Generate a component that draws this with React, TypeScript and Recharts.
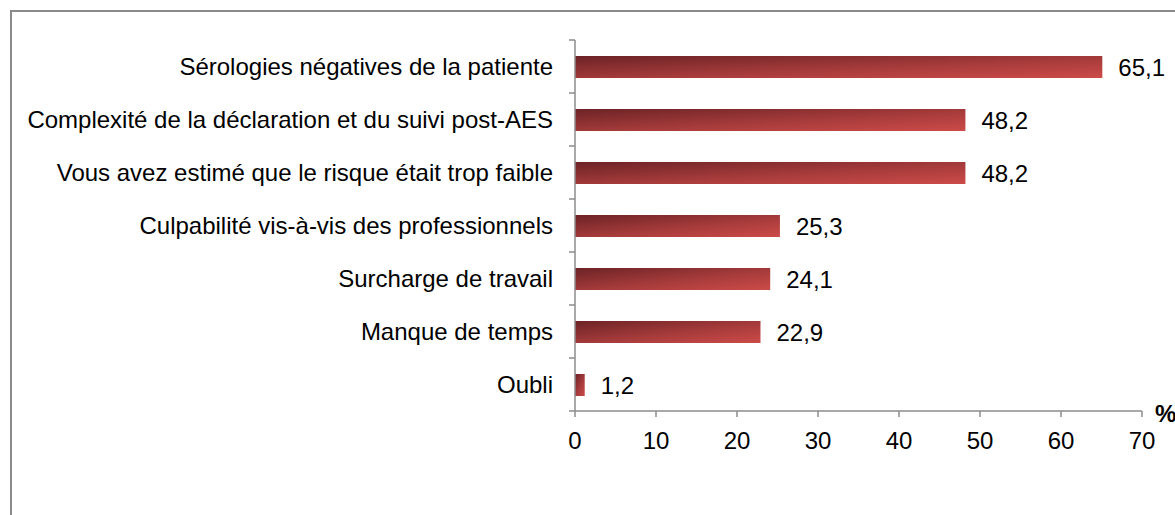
import React from 'react';
import { BarChart, Bar, XAxis, YAxis, LabelList, Label } from 'recharts';

const categories = [
    'Sérologies négatives de la patiente',
    'Complexité de la déclaration et du suivi post-AES',
    'Vous avez estimé que le risque était trop faible',
    'Culpabilité vis-à-vis des professionnels',
    'Surcharge de travail',
    'Manque de temps',
    'Oubli',
];
const values = [65.1, 48.2, 48.2, 25.3, 24.1, 22.9, 1.2];
const xTicks = [0, 10, 20, 30, 40, 50, 60, 70];

const data = categories.map((name, i) => ({ name, value: values[i] }));

const W = 1175;
const H = 515;
const X_HEIGHT = 30;
const margin = { top: 40, right: 33, bottom: 74, left: 15 };
const Y_WIDTH = 560;
const AXIS_X = margin.left + Y_WIDTH;
const BAND = (H - margin.top - margin.bottom - X_HEIGHT) / categories.length;
const FONT = '"Liberation Sans", Arial, sans-serif';
const FS = 24;
const AXIS_COLOR = '#8c8c8c';

const CategoryTick = (props: any) => {
    const { y, payload, index } = props;
    const last = index === categories.length - 1;
    return (
        <g>
            <line x1={AXIS_X - 6} x2={AXIS_X} y1={y - BAND / 2} y2={y - BAND / 2} stroke={AXIS_COLOR} strokeWidth={1.5} />
            {last && (
                <line x1={AXIS_X - 6} x2={AXIS_X} y1={y + BAND / 2} y2={y + BAND / 2} stroke={AXIS_COLOR} strokeWidth={1.5} />
            )}
            <text x={AXIS_X - 22} y={y} dy="0.36em" textAnchor="end" fontSize={FS} fill="#000" fontFamily={FONT}>
                {payload.value}
            </text>
        </g>
    );
};

export default function App() {
    return (
        <div style={{ position: 'fixed', left: 0, top: 0, width: W, height: H, overflow: 'hidden', background: '#fff' }}>
            <div
                style={{
                    position: 'absolute',
                    left: 10,
                    top: 10,
                    width: W + 20,
                    height: H + 20,
                    border: '2px solid #8a8a8a',
                    boxSizing: 'border-box',
                }}
            />
            <div style={{ position: 'absolute', left: 0, top: 0 }}>
                <BarChart width={W} height={H} data={data} layout="vertical" margin={margin} barSize={22}>
                    <defs>
                        <linearGradient id="barFill" x1="0" y1="0" x2="1" y2="1">
                            <stop offset="0%" stopColor="#6c2326" />
                            <stop offset="55%" stopColor="#a63b3b" />
                            <stop offset="100%" stopColor="#cc4b48" />
                        </linearGradient>
                    </defs>
                    <XAxis
                        type="number"
                        domain={[0, 70]}
                        ticks={xTicks}
                        interval={0}
                        height={X_HEIGHT}
                        axisLine={{ stroke: AXIS_COLOR, strokeWidth: 1.5 }}
                        tickLine={{ stroke: AXIS_COLOR, strokeWidth: 1.5 }}
                        tickSize={6}
                        tickMargin={15}
                        tick={{ fontSize: FS, fill: '#000', fontFamily: FONT }}
                    >
                        <Label
                            value="%"
                            position="right"
                            offset={13}
                            dy={-13}
                            style={{ fontSize: FS, fontWeight: 'bold', fill: '#000', fontFamily: FONT }}
                        />
                    </XAxis>
                    <YAxis
                        type="category"
                        dataKey="name"
                        width={Y_WIDTH}
                        interval={0}
                        axisLine={{ stroke: AXIS_COLOR, strokeWidth: 1.5 }}
                        tickLine={false}
                        tick={<CategoryTick />}
                    />
                    <Bar dataKey="value" fill="url(#barFill)" isAnimationActive={false}>
                        <LabelList
                            dataKey="value"
                            position="right"
                            offset={16}
                            formatter={(v: any) => String(v).replace('.', ',')}
                            style={{ fontSize: FS, fill: '#000', fontFamily: FONT }}
                        />
                    </Bar>
                </BarChart>
            </div>
        </div>
    );
}
